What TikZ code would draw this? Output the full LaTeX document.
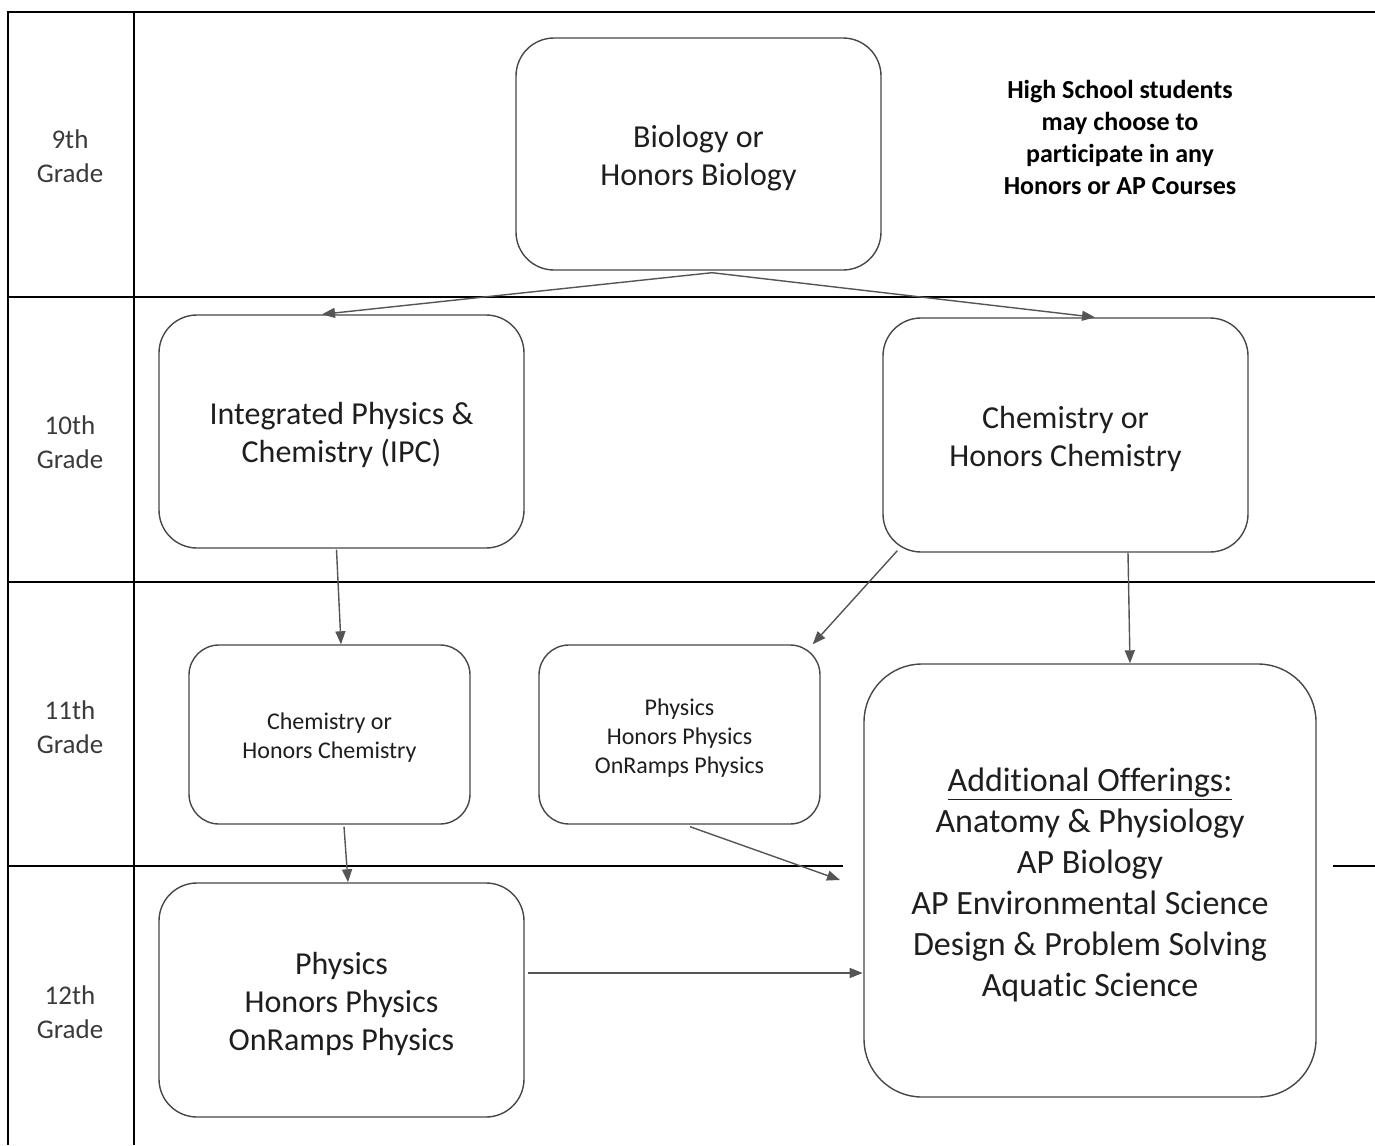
\documentclass[tikz,border=0pt]{standalone}
\usepackage{fontspec}
\setmainfont{Carlito}[Ligatures=NoCommon]
\usetikzlibrary{arrows.meta,calc}
\definecolor{boxline}{HTML}{474747}
\definecolor{arrowc}{HTML}{555555}
\definecolor{txt}{HTML}{1E1E1E}
\definecolor{gradetxt}{HTML}{3A3A3A}
\tikzset{
  frameline/.style={draw=black,line width=1.6pt},
  course/.style={draw=boxline,line width=1.4pt,rounded corners=38pt,inner sep=0pt,fill=white},
  ctext/.style={align=center,text=txt,inner sep=0pt},
  bigtext/.style={ctext,font=\fontsize{32}{38}\selectfont},
  smalltext/.style={ctext,font=\fontsize{24}{29.3}\selectfont},
  gradelabel/.style={align=center,text=gradetxt,font=\fontsize{27}{34}\selectfont},
  conn/.style={draw=arrowc,line width=1.4pt,-{Triangle[length=13pt,width=10pt]}},
}
\begin{document}
\begin{tikzpicture}[x=1pt,y=-1pt]
\useasboundingbox (0,0) rectangle (1375,1145);
% frame
\draw[frameline] (1375,12) -- (8,12) -- (8,1145);
\draw[frameline] (134,12) -- (134,1145);
\draw[frameline] (8,297) -- (1375,297);
\draw[frameline] (8,582) -- (1375,582);
\draw[frameline] (8,866) -- (843,866);
\draw[frameline] (1333,866) -- (1375,866);
% grade labels
\node[gradelabel] (g9) at (70,156) {9th\\Grade};
\node[gradelabel] (g10) at (70,442) {10th\\Grade};
\node[gradelabel] (g11) at (70,727) {11th\\Grade};
\node[gradelabel] (g12) at (70,1012) {12th\\Grade};
% course boxes
\node[course,minimum width=365pt,minimum height=232pt] (bio) at (698.5,154) {};
\node[course,minimum width=365pt,minimum height=233pt] (ipc) at (341.5,431.5) {};
\node[course,minimum width=365pt,minimum height=234pt] (chem10) at (1065.5,435) {};
\node[course,rounded corners=30pt,minimum width=281pt,minimum height=179pt] (chem11) at (329.5,734.5) {};
\node[course,rounded corners=30pt,minimum width=281pt,minimum height=179pt] (phys11) at (679.5,734.5) {};
\node[course,minimum width=365pt,minimum height=234pt] (phys12) at (341.5,1000) {};
\node[course,rounded corners=58pt,minimum width=452pt,minimum height=433pt] (add) at (1090,880.5) {};
% box texts
\node[bigtext] (biot) at ($(bio.center)+(0,4)$) {Biology or\\Honors Biology};
\node[bigtext] (ipct) at ($(ipc.center)+(0,3.5)$) {Integrated Physics \&\\Chemistry (IPC)};
\node[bigtext] (chem10t) at ($(chem10.center)+(0,4)$) {Chemistry or\\Honors Chemistry};
\node[smalltext] (chem11t) at ($(chem11.center)+(0,3)$) {Chemistry or\\Honors Chemistry};
\node[smalltext] (phys11t) at ($(phys11.center)+(0,3.5)$) {Physics\\Honors Physics\\OnRamps Physics};
\node[bigtext] (phys12t) at ($(phys12.center)+(0,4)$) {Physics\\Honors Physics\\OnRamps Physics};
\node[ctext,font=\fontsize{34}{41}\selectfont] (addt) at ($(add.center)+(0,4.5)$) {\underline{Additional Offerings:}\\Anatomy \& Physiology\\AP Biology\\AP Environmental Science\\Design \& Problem Solving\\Aquatic Science};
\node[align=center,text=black,font=\bfseries\fontsize{26}{31.7}\selectfont] (note) at (1120,137.5) {High School students\\may choose to\\participate in any\\Honors or AP Courses};
% connectors
\coordinate (biobot) at ($(bio.south)+(13.5,2)$);
\coordinate (free) at (840,880);
\draw[conn] (biobot) -- ($(ipc.north)+(-19.5,0)$);
\draw[conn] (biobot) -- ($(chem10.north)+(29.5,0)$);
\draw[conn] ($(ipc.south)+(-5,1)$) -- ($(chem11.north)+(11.5,0)$);
\draw[conn] ($(chem10.south west)+(15,-2)$) -- ($(phys11.north east)+(-8,0)$);
\draw[conn] ($(chem10.south)+(62.5,0)$) -- ($(add.north)+(40,0)$);
\draw[conn] ($(chem11.south)+(14.5,2)$) -- ($(phys12.north)+(6.5,0)$);
\draw[conn] ($(phys11.south)+(10.5,2)$) -- (free);
\draw[conn] ($(phys12.east)+(3,-27)$) -- ($(phys12.east)+(338,-27)$);
\end{tikzpicture}
\end{document}
